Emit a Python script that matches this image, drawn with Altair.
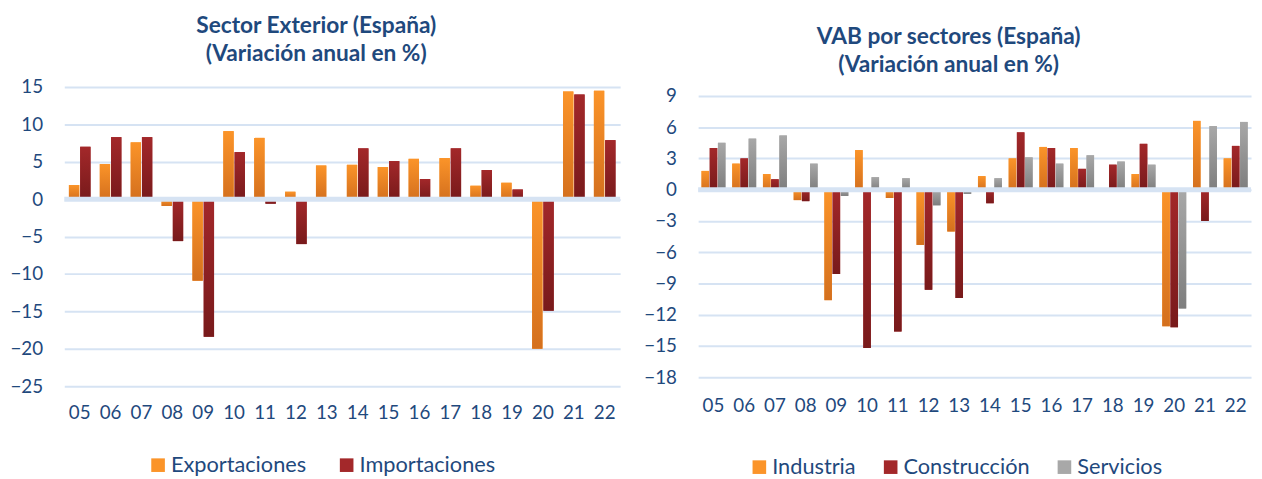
import altair as alt
import pandas as pd

years = ["05", "06", "07", "08", "09", "10", "11", "12", "13", "14", "15", "16", "17", "18", "19", "20", "21", "22"]

# Sector exterior
exportaciones = [1.9, 4.7, 7.6, -0.9, -10.9, 9.1, 8.2, 1.0, 4.5, 4.6, 4.3, 5.4, 5.5, 1.8, 2.2, -20.0, 14.4, 14.5]
importaciones = [7.0, 8.3, 8.3, -5.6, -18.4, 6.3, -0.6, -6.0, 0.0, 6.8, 5.1, 2.7, 6.8, 3.9, 1.3, -14.9, 14.0, 7.9]

# VAB por sectores
industria = [1.8, 2.5, 1.5, -1.0, -10.6, 3.8, -0.8, -5.3, -4.0, 1.3, 3.0, 4.1, 4.0, 0.0, 1.5, -13.1, 6.6, 3.0]
construccion = [4.0, 3.0, 1.0, -1.1, -8.1, -15.2, -13.6, -9.6, -10.4, -1.3, 5.5, 4.0, 2.0, 2.4, 4.4, -13.2, -3.0, 4.2]
servicios = [4.5, 4.9, 5.2, 2.5, -0.6, 1.2, 1.1, -1.5, -0.4, 1.1, 3.1, 2.5, 3.3, 2.7, 2.4, -11.4, 6.1, 6.5]

left_ticks = [15, 10, 5, 0, -5, -10, -15, -20, -25]
right_ticks = [9, 6, 3, 0, -3, -6, -9, -12, -15, -18]

TEXT = "#1F497D"
GRID = "#D6E3F3"
FONT = "Lato"

ORANGE = ("#FB9429", "#D4701E")
RED = ("#A3282A", "#781A1B")
GRAY = ("#A8A8A8", "#7E7E7E")


def long_df(series_names, series_values):
    rows = []
    for name, vals in zip(series_names, series_values):
        for y, v in zip(years, vals):
            rows.append({"year": y, "serie": name, "valor": v})
    return pd.DataFrame(rows)


def make_chart(series_names, series_values, grads, ydomain, yticks, width, height,
               title_lines, title_offset, pad_inner, x_label_pad,
               legend_x, legend_y, legend_pad):
    df = long_df(series_names, series_values)
    x = alt.X("year:N", sort=years,
              scale=alt.Scale(paddingInner=pad_inner, paddingOuter=pad_inner / 2),
              axis=alt.Axis(title=None, labelAngle=0, domain=False, ticks=False,
                            labelPadding=x_label_pad, labelFontSize=19, labelFont=FONT,
                            labelColor=TEXT, grid=False))
    xo = alt.XOffset("serie:N", sort=series_names,
                     scale=alt.Scale(domain=series_names, paddingInner=0.08))
    y = alt.Y("valor:Q",
              scale=alt.Scale(domain=ydomain, nice=False, zero=False),
              axis=alt.Axis(title=None, values=yticks, tickCount=len(yticks) + 2,
                            domain=False, ticks=False,
                            labelPadding=22, labelFontSize=19, labelFont=FONT,
                            labelColor=TEXT, gridColor=GRID, gridWidth=2,
                            labelOverlap=False, format="d"))
    base = alt.Chart(df).mark_bar().encode(
        x=x, xOffset=xo, y=y,
        color=alt.Color("serie:N", sort=series_names,
                        scale=alt.Scale(domain=series_names, range=[g[0] for g in grads]),
                        legend=alt.Legend(title=None, orient="none", direction="horizontal",
                                          legendX=legend_x, legendY=legend_y,
                                          symbolType="square", symbolSize=190,
                                          symbolStrokeWidth=0,
                                          labelFontSize=22, labelFont=FONT, labelColor=TEXT,
                                          columnPadding=legend_pad,
                                          labelOffset=2)),
    )
    layers = [base]
    for name, (c1, c2) in zip(series_names, grads):
        layers.append(
            alt.Chart(df).transform_filter(alt.datum.serie == name).mark_bar(
                color=alt.Gradient(gradient="linear",
                                   stops=[alt.GradientStop(color=c1, offset=0),
                                          alt.GradientStop(color=c2, offset=1)],
                                   x1=0, x2=0, y1=0, y2=1)
            ).encode(x=x, xOffset=xo, y=y)
        )
    zero = alt.Chart(pd.DataFrame({"v": [0]})).mark_rule(color=GRID, strokeWidth=5).encode(
        y=alt.Y("v:Q")
    )
    layers.append(zero)
    return alt.layer(*layers).properties(
        width=width, height=height,
        title=alt.TitleParams(text=title_lines, fontSize=23, font=FONT, fontWeight="bold",
                              color=TEXT, anchor="middle", offset=title_offset,
                              lineHeight=29, frame="bounds"),
    )


left = make_chart(["Exportaciones", "Importaciones"], [exportaciones, importaciones],
                  [ORANGE, RED], [-25, 15], left_ticks, 563, 303,
                  ["Sector Exterior (España)", "(Variación anual en %)"], 12, 0.3, 18,
                  84, 372, 30)

right = make_chart(["Industria", "Construcción", "Servicios"], [industria, construccion, servicios],
                   [ORANGE, RED, GRAY], [-18, 9.85], right_ticks, 560, 294,
                   ["VAB por sectores (España)", "(Variación anual en %)"], 10, 0.22, 20,
                   51, 374, 24)

chart = alt.hconcat(left, right, spacing=79, bounds="flush").resolve_scale(
    x="independent", y="independent", xOffset="independent", color="independent"
).resolve_legend(color="independent").properties(
    padding={"left": 1, "top": 4, "right": 0, "bottom": 0}
).configure_view(stroke=None)

chart.save("out.html", embed_options={"renderer": "svg", "actions": False})
